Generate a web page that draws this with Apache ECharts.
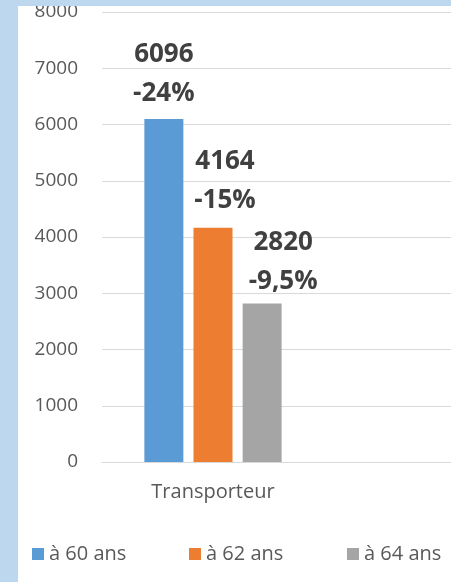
<!DOCTYPE html>
<html>
<head>
<meta charset="utf-8">
<script src="https://cdn.jsdelivr.net/npm/echarts@6/dist/echarts.min.js"></script>
<style>
  html, body { margin: 0; padding: 0; }
  body { width: 451px; height: 582px; background: #bdd7ee; position: relative; overflow: hidden; }
  #chart { position: absolute; left: 18px; top: 6px; width: 433px; height: 576px; background: #fff; }
</style>
</head>
<body>
<div id="chart"></div>
<script>
// catégories (la 2e est vide, comme dans le graphique Excel d'origine)
const categories = ['Transporteur', ''];
const seriesNames = ['à 60 ans', 'à 62 ans', 'à 64 ans'];
const a60 = [6096, null];
const a62 = [4164, null];
const a64 = [2820, null];
const pct = ['-24%', '-15%', '-9,5%'];
const yTicks = { min: 0, max: 8000, interval: 1000 };

const colors = ['#5b9bd5', '#ed7d31', '#a5a5a5'];
// décalages des étiquettes (déplacées à la main dans l'original)
const labelShift = [[0, -6], [12, -8], [21, -2]];
// position horizontale de chaque entrée de légende
const legendLeft = [9, 166, 324];

const values = [a60, a62, a64];

const chart = echarts.init(document.getElementById('chart'));

const option = {
  animation: false,
  color: colors,
  textStyle: { fontFamily: 'Open Sans' },
  // la zone de tracé dépasse à droite (graphique rogné)
  grid: { left: 84, width: 444, top: 6, bottom: 120, outerBoundsMode: 'none' },
  legend: seriesNames.map((name, i) => ({
    left: legendLeft[i],
    bottom: 13,
    itemWidth: 12,
    itemHeight: 12,
    icon: 'rect',
    textStyle: { color: '#595959', fontSize: 20, fontFamily: 'Open Sans' },
    data: [name]
  })),
  xAxis: {
    type: 'category',
    data: categories,
    axisTick: { show: false },
    axisLine: { lineStyle: { color: '#d9d9d9' } },
    axisLabel: { color: '#595959', fontSize: 20, margin: 20 }
  },
  yAxis: {
    type: 'value',
    min: yTicks.min,
    max: yTicks.max,
    interval: yTicks.interval,
    axisLine: { show: false },
    axisTick: { show: false },
    axisLabel: { color: '#595959', fontSize: 19, margin: 24, formatter: (v) => String(v) },
    splitLine: { lineStyle: { color: '#d9d9d9' } }
  },
  series: seriesNames.map((name, i) => ({
    name: name,
    type: 'bar',
    data: values[i],
    barWidth: 39,
    barGap: '26%',
    label: {
      show: true,
      position: 'top',
      distance: 0,
      offset: labelShift[i],
      color: '#404040',
      fontSize: 26,
      fontWeight: 'bold',
      lineHeight: 39,
      formatter: (p) => p.value + '\n' + pct[i]
    }
  }))
};

chart.setOption(option);
</script>
</body>
</html>
